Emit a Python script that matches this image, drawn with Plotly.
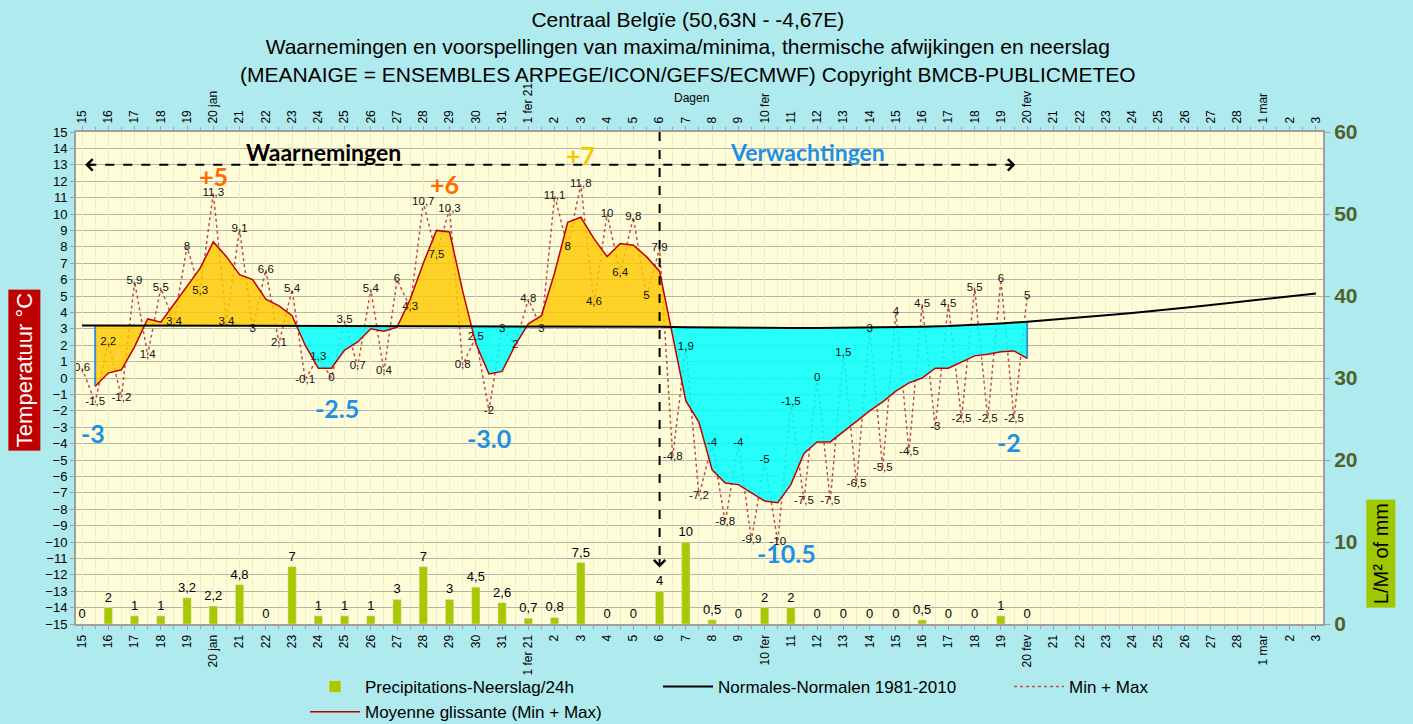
import numpy as np
import pandas as pd
import plotly.graph_objects as go

# day 0 = 15 jan 2021 ... day 47 = 3 mar 2021
start = pd.Timestamp("2021-01-15")
days = list(range(48))
special_labels = {"2021-01-20": "20 jan", "2021-02-01": "1 fer 21", "2021-02-10": "10 fer",
                  "2021-02-20": "20 fev", "2021-03-01": "1 mar"}
tick_labels = []
for d in days:
    dt = start + pd.Timedelta(days=d)
    tick_labels.append(special_labels.get(dt.strftime("%Y-%m-%d"), str(dt.day)))

# normals 1981-2010 (one per day)
normal = [3.2, 3.2, 3.2, 3.2, 3.2, 3.2, 3.2, 3.2, 3.2, 3.2, 3.2, 3.18, 3.17, 3.16, 3.15, 3.15,
          3.15, 3.15, 3.15, 3.14, 3.13, 3.12, 3.12, 3.1, 3.08, 3.07, 3.06, 3.05, 3.05, 3.06,
          3.08, 3.1, 3.13, 3.17, 3.24, 3.33, 3.43, 3.55, 3.68, 3.82, 3.96, 4.1, 4.28, 4.45,
          4.62, 4.78, 4.96, 5.15]

# max / min alternating, every half day from 15 jan to 20 feb
minmax = [0.6, -1.5, 2.2, -1.2, 5.9, 1.4, 5.5, 3.4, 8, 5.3, 11.3, 3.4, 9.1, 3, 6.6, 2.1,
          5.4, -0.1, 1.3, 0, 3.5, 0.7, 5.4, 0.4, 6, 4.3, 10.7, 7.5, 10.3, 0.8, 2.5, -2,
          3, 2, 4.8, 3, 11.1, 8, 11.8, 4.6, 10, 6.4, 9.8, 5, 7.9, -4.8, 1.9, -7.2,
          -4, -8.8, -4, -9.9, -5, -10, -1.5, -7.5, 0, -7.5, 1.5, -6.5, 3, -5.5,
          4, -4.5, 4.5, -3, 4.5, -2.5, 5.5, -2.5, 6, -2.5, 5]
minmax_x = [i * 0.5 for i in range(len(minmax))]

# moyenne glissante, every half day from 15.5 jan to 20 feb
moyenne = [-0.5, 0.3, 0.5, 1.9, 3.6, 3.4, 4.5, 5.6, 6.7, 8.3,
           7.4, 6.3, 6.0, 4.8, 4.4, 3.8, 2.0, 0.6, 0.6, 1.7,
           2.2, 3.0, 2.85, 3.1, 4.8, 7.0, 9.0, 8.9, 5.3, 2.1,
           0.25, 0.4, 2.0, 3.3, 3.8, 6.4, 9.5, 9.8, 8.5, 7.4,
           8.2, 8.1, 7.4, 6.5, 2.6, -1.4, -2.7, -5.6, -6.4, -6.5,
           -7.0, -7.5, -7.6, -6.5, -4.6, -3.9, -3.9, -3.3, -2.65, -2.0,
           -1.45, -0.8, -0.3, 0.0, 0.6, 0.6, 1.0, 1.35, 1.45, 1.6,
           1.65, 1.2]
moyenne_x = [(i + 1) * 0.5 for i in range(len(moyenne))]

# precipitation per day (mm), 15 jan - 20 feb
precip = [0, 2, 1, 1, 3.2, 2.2, 4.8, 0, 7, 1, 1, 1, 3, 7, 3, 4.5, 2.6,
          0.7, 0.8, 7.5, 0, 0, 4, 10, 0.5, 0, 2, 2, 0, 0, 0, 0, 0.5, 0, 0, 1, 0]
precip_x = days[:len(precip)]

# anomaly labels
anom_text = ["+5", "+6", "+7", "-3", "-2.5", "-3.0", "-10.5", "-2"]
anom_x = [5.0, 13.8, 19.0, 0.4, 9.7, 15.5, 26.85, 35.3]
anom_y = [12.3, 11.8, 13.6, -3.35, -1.85, -3.65, -10.65, -3.9]
anom_col = ["#FF6A00", "#FF6A00", "#F7C600", "#1E90E6", "#1E90E6", "#1E90E6", "#1E90E6", "#1E90E6"]

title_lines = ["Centraal Belgïe (50,63N - -4,67E)",
               "Waarnemingen en voorspellingen van maxima/minima, thermische afwijkingen en neerslag",
               "(MEANAIGE = ENSEMBLES ARPEGE/ICON/GEFS/ECMWF) Copyright BMCB-PUBLICMETEO"]


def fmt(v):
    return f"{v:g}".replace(".", ",")


fig = go.Figure()

# dotted min+max line
fig.add_trace(go.Scatter(x=minmax_x, y=minmax, mode="lines", name="Min + Max", legend="legend3",
                         line=dict(color="#C0504D", width=1.5, dash="dot")))

# fill between moyenne and normals
nm_at = np.interp(moyenne_x, days, normal)
runs, cur = [], [(moyenne_x[0], moyenne[0], nm_at[0])]
for i in range(1, len(moyenne)):
    d0 = moyenne[i - 1] - nm_at[i - 1]
    d1 = moyenne[i] - nm_at[i]
    if d0 * d1 < 0:
        t = d0 / (d0 - d1)
        xc = moyenne_x[i - 1] + t * (moyenne_x[i] - moyenne_x[i - 1])
        yc = nm_at[i - 1] + t * (nm_at[i] - nm_at[i - 1])
        cur.append((xc, yc, yc))
        runs.append(cur)
        cur = [(xc, yc, yc)]
    cur.append((moyenne_x[i], moyenne[i], nm_at[i]))
runs.append(cur)

for k, run in enumerate(runs):
    rx = [p[0] for p in run]
    above = np.mean([p[1] - p[2] for p in run]) > 0
    # the original chart paints its first stretch yellow too
    col = "rgba(255,200,0,0.82)" if (above or k == 0) else "rgba(0,255,255,0.85)"
    fig.add_trace(go.Scatter(x=rx + rx[::-1], y=[p[1] for p in run] + [p[2] for p in run][::-1],
                             fill="toself", fillcolor=col, mode="none", showlegend=False,
                             hoverinfo="skip"))

# blue edges of the filled area
for xe, ye, ne in [(moyenne_x[0], moyenne[0], nm_at[0]), (moyenne_x[-1], moyenne[-1], nm_at[-1])]:
    fig.add_trace(go.Scatter(x=[xe, xe], y=[ne, ye], mode="lines", showlegend=False,
                             line=dict(color="#3C8FD8", width=2), hoverinfo="skip"))

fig.add_trace(go.Scatter(x=minmax_x, y=minmax, mode="text", text=[fmt(v) for v in minmax],
                         textposition="middle center", showlegend=False,
                         textfont=dict(family="Liberation Sans", size=11.5, color="#111111")))

fig.add_trace(go.Scatter(x=moyenne_x, y=moyenne, mode="lines", name="Moyenne glissante (Min + Max)",
                         line=dict(color="#C00000", width=1.5), legend="legend", legendrank=2))
fig.add_trace(go.Scatter(x=days, y=normal, mode="lines", name="Normales-Normalen 1981-2010",
                         line=dict(color="#000000", width=2), legend="legend2"))

fig.add_trace(go.Bar(x=precip_x, y=precip, yaxis="y2", width=0.32, marker_color="#A8C800",
                     name="Precipitations-Neerslag/24h", text=[fmt(v) for v in precip],
                     textposition="outside", cliponaxis=False, constraintext="none",
                     legend="legend", legendrank=1,
                     textfont=dict(family="Liberation Sans", size=13, color="#000000")))

# invisible trace to carry the top axis
fig.add_trace(go.Scatter(x=[days[0], days[-1]], y=[0, 0], xaxis="x2", mode="none",
                         showlegend=False, hoverinfo="skip"))

for t, x, y, c in zip(anom_text, anom_x, anom_y, anom_col):
    fig.add_annotation(x=x, y=y, text=f"<b>{t}</b>", showarrow=False,
                       font=dict(family="Lato", size=25, color=c))

fig.add_annotation(x=9.2, y=13.8, text="<b>Waarnemingen</b>", showarrow=False,
                   font=dict(family="Lato", size=23, color="#000000"))
fig.add_annotation(x=27.65, y=13.8, text="<b>Verwachtingen</b>", showarrow=False,
                   font=dict(family="Lato", size=23, color="#1E90E6"))

# dashed arrows
fig.add_shape(type="line", x0=0.2, x1=35.4, y0=13, y1=13, line=dict(color="black", width=2, dash="dash"))
fig.add_shape(type="line", x0=22, x1=22, y0=15, y1=-11.3, line=dict(color="black", width=2, dash="dash"))
for x, y, ax, ay in [(0.12, 13, 10, 0), (35.55, 13, -10, 0), (22, -11.55, 0, -10)]:
    fig.add_annotation(x=x, y=y, ax=ax, ay=ay, text="", showarrow=True, arrowhead=4,
                       arrowsize=1.1, arrowwidth=2, arrowcolor="black", standoff=0)

fig.add_annotation(x=0.4908, y=1.256, xref="paper", yref="paper", yanchor="top",
                   text="<br>".join(title_lines), showarrow=False,
                   font=dict(family="Liberation Sans", size=21, color="#000000"))
fig.add_annotation(x=23.2, y=1.087, yref="paper", text="Dagen", showarrow=False,
                   font=dict(family="Liberation Sans", size=12, color="#000000"))
fig.add_annotation(x=-0.0417, y=0.516, xref="paper", yref="paper", text="Temperatuur °C",
                   xanchor="center", yanchor="middle",
                   textangle=-90, showarrow=False, bgcolor="#C00000", borderpad=3,
                   font=dict(family="Liberation Sans", size=22, color="#FFFFFF"))
fig.add_annotation(x=1.0465, y=0.144, xref="paper", yref="paper", text="L/M² of mm",
                   xanchor="center", yanchor="middle",
                   textangle=-90, showarrow=False, bgcolor="#A0C800", borderpad=3,
                   font=dict(family="Liberation Sans", size=20, color="#000000"))

xcommon = dict(range=[-0.23, 47.27], tickmode="array", tickvals=days, ticktext=tick_labels,
               tickangle=-90, tickfont=dict(family="Liberation Sans", size=12, color="#000000"),
               showgrid=True, gridcolor="#EDEDCF", gridwidth=1,
               minor=dict(tick0=0.5, dtick=1, showgrid=True, gridcolor="#EDEDCF",
                          ticks="outside", ticklen=3, tickcolor="#A0A0A0"),
               ticks="outside", ticklen=4, tickcolor="#A0A0A0", automargin=False, zeroline=False)

legend_font = dict(family="Liberation Sans Narrow, Liberation Sans", size=17, color="#000000")
legend_common = dict(orientation="v", xref="container", yref="container", xanchor="left",
                     yanchor="top", y=1 - 669 / 724, bgcolor="rgba(0,0,0,0)", font=legend_font,
                     itemwidth=50, tracegroupgap=0, traceorder="normal")

fig.update_layout(
    width=1413, height=724,
    margin=dict(l=76, r=90, t=132, b=100, autoexpand=False),
    paper_bgcolor="#AFEBEE", plot_bgcolor="#FFFDD8",
    xaxis=dict(**xcommon, showline=True, linecolor="#A0A0A0", linewidth=2),
    xaxis2=dict(**xcommon, overlaying="x", side="top", anchor="y", showline=True,
                linecolor="#A0A0A0", linewidth=2),
    yaxis=dict(range=[-15, 15], dtick=1, showgrid=True, gridcolor="#B4B4A8", gridwidth=1,
               zeroline=False, showline=True, linecolor="#A0A0A0", linewidth=2,
               ticks="outside", ticklen=4, tickcolor="#A0A0A0", automargin=False,
               tickfont=dict(family="Liberation Sans", size=13, color="#000000")),
    yaxis2=dict(range=[0, 60], dtick=10, overlaying="y", side="right", showgrid=False,
                zeroline=False, showline=True, linecolor="#A0A0A0", linewidth=2,
                ticks="outside", ticklen=5, tickcolor="#A0A0A0", automargin=False,
                tickfont=dict(family="Liberation Sans", size=21, color="#4F6228", weight="bold")),
    legend=dict(**legend_common, x=305 / 1413),
    legend2=dict(**legend_common, x=658 / 1413),
    legend3=dict(**legend_common, x=1009 / 1413),
    showlegend=True,
)

# the page should start at its top-left corner, without the default body margin
fig.write_html("out.html", config={"displayModeBar": False},
               post_script="document.body.style.margin='0px';")
